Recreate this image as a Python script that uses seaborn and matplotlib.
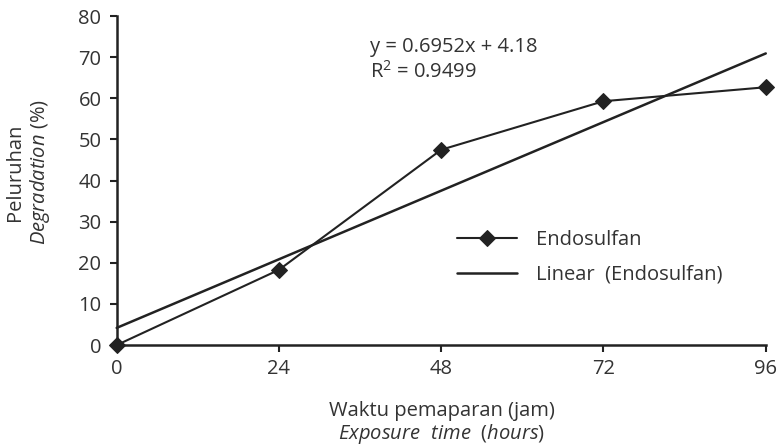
import matplotlib
matplotlib.use("Agg")
import matplotlib.pyplot as plt
import numpy as np
import pandas as pd
import seaborn as sns

# ── data ──────────────────────────────────────────────────────────────────────
hours = [0, 24, 48, 72, 96]
degradation = [0.0, 18.3, 47.5, 59.3, 62.7]
slope, intercept = 0.6952, 4.18
r_squared = 0.9499
x_ticks = [0, 24, 48, 72, 96]
y_ticks = [0, 10, 20, 30, 40, 50, 60, 70, 80]

sns.set_theme(style="white")
plt.rcParams["font.family"] = ["Open Sans", "DejaVu Sans"]
plt.rcParams["mathtext.fontset"] = "custom"
plt.rcParams["mathtext.it"] = "Open Sans:italic"
plt.rcParams["mathtext.rm"] = "Open Sans"

ink = "#222222"
txt = "#333333"
fs = 14.5

df = pd.DataFrame({"hours": hours, "degradation": degradation})
trend = pd.DataFrame({"hours": [hours[0], hours[-1]]})
trend["fit"] = slope * trend["hours"] + intercept

fig = plt.figure(figsize=(7.83, 4.47), dpi=100)
ax = fig.add_axes([0.149, 0.228, 0.829, 0.736])

sns.lineplot(data=df, x="hours", y="degradation", ax=ax, color=ink,
             marker="D", markersize=8.5, markeredgecolor=ink, linewidth=1.5,
             label="Endosulfan")
sns.lineplot(data=trend, x="hours", y="fit", ax=ax, color=ink,
             linewidth=1.8, label="Linear  (Endosulfan)")

ax.set_xlim(0, 96)
ax.set_ylim(0, 80)
ax.set_xticks(x_ticks)
ax.set_yticks(y_ticks)
ax.tick_params(axis="both", labelsize=fs, colors=ink, labelcolor=txt,
               length=5, width=1.5, direction="out", bottom=True, left=True)
ax.tick_params(axis="x", pad=5)
ax.tick_params(axis="y", pad=6)
ax.set_xlabel("")
ax.set_ylabel("")
for s in ["top", "right"]:
    ax.spines[s].set_visible(False)
for s in ["left", "bottom"]:
    ax.spines[s].set_color(ink)
    ax.spines[s].set_linewidth(1.8)
    ax.spines[s].set_clip_on(False)
for ln in ax.lines:
    ln.set_clip_on(False)

ax.text(37.4, 75.0, f"y = {slope}x + {intercept}\nR$^2$ = {r_squared}",
        fontsize=fs, color=txt, va="top", ha="left", linespacing=1.25)

leg = ax.legend(loc="upper left", bbox_to_anchor=(0.512, 0.375), frameon=False,
                fontsize=fs, handlelength=3.0, labelspacing=0.75,
                handletextpad=0.9, borderaxespad=0)
for t in leg.get_texts():
    t.set_color(txt)

fig.text(0.019, 0.615, "Peluruhan", rotation=90, fontsize=fs, color=txt,
         ha="center", va="center")
fig.text(0.051, 0.615, r"$\mathit{Degradation}$ (%)", rotation=90,
         fontsize=fs, color=txt, ha="center", va="center")
fig.text(0.564, 0.080, "Waktu pemaparan (jam)", fontsize=fs, color=txt,
         ha="center", va="center")
fig.text(0.564, 0.03, r"$\mathit{Exposure\ \ time}$  ($\mathit{hours}$)",
         fontsize=fs, color=txt, ha="center", va="center")

fig.savefig("out.png", dpi=100)
